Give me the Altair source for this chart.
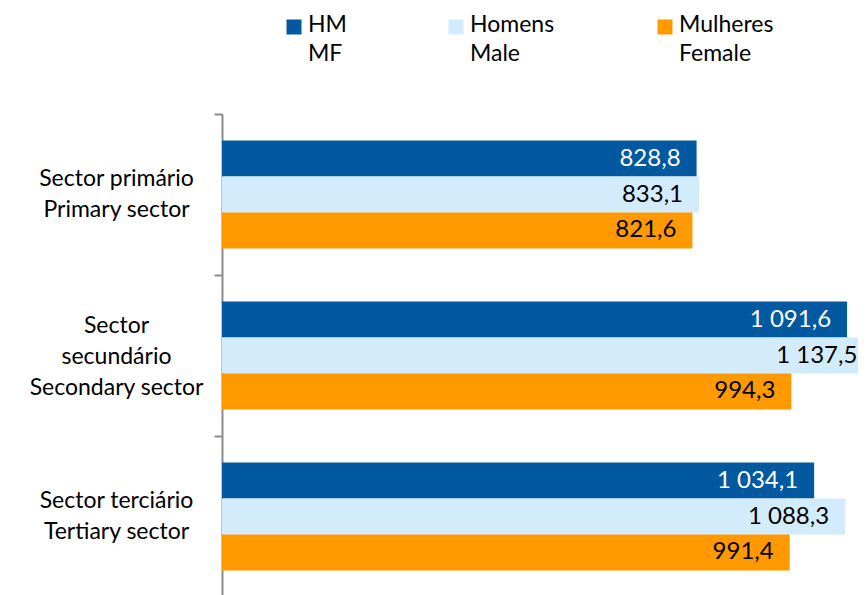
import altair as alt
import pandas as pd

categories = ["Sector primário\nPrimary sector",
              "Sector\nsecundário\nSecondary sector",
              "Sector terciário\nTertiary sector"]
series = ["HM\nMF", "Homens\nMale", "Mulheres\nFemale"]
hm = [828.8, 1091.6, 1034.1]
homens = [833.1, 1137.5, 1088.3]
mulheres = [821.6, 994.3, 991.4]
colors = ["#02599F", "#D3ECFC", "#FF9900"]
label_colors = ["#FFFFFF", "#000000", "#000000"]

FONT = "Lato"
LEGEND_X = [72, 234, 443]   # legend entry positions (layout, px from plot left)


def fmt(v):
    return f"{v:,.1f}".replace(",", " ").replace(".", ",")


rows = []
for s, vals, tc in zip(series, [hm, homens, mulheres], label_colors):
    for c, v in zip(categories, vals):
        rows.append({"cat": c, "series": s, "value": v, "label": fmt(v), "tc": tc})
df = pd.DataFrame(rows)

leg_df = pd.DataFrame({
    "series": series,
    "l1": [s.split("\n")[0] for s in series],
    "l2": [s.split("\n")[1] for s in series],
})

color_scale = alt.Scale(domain=series, range=colors)

y_enc = alt.Y(
    "cat:N", sort=categories,
    scale=alt.Scale(paddingInner=0, paddingOuter=0),
    axis=alt.Axis(
        title=None,
        labelExpr="split(datum.label, '\\n')",
        tickBand="extent",
        tickSize=8,
        tickColor="#8C8C8C",
        tickWidth=2,
        domainColor="#8C8C8C",
        domainWidth=2,
        labelAlign="center",
        labelBaseline="middle",
        labelPadding=98,
        labelOffset={"condition": {"test": "length(split(datum.value, '\\n')) > 2",
                                   "value": -30},
                     "value": -16},
        labelFont=FONT,
        labelFontSize=23,
        labelColor="#000000",
        labelLineHeight=31,
        minExtent=214,
        maxExtent=214,
    ),
)
yoff = alt.YOffset("series:N", sort=series,
                   scale=alt.Scale(paddingInner=0, paddingOuter=0.74))
x_enc = alt.X("value:Q", scale=alt.Scale(domain=[0, 1110.7], nice=False, zero=True), axis=None)

bars = alt.Chart(df).mark_bar(clip=True).encode(
    x=x_enc, y=y_enc, yOffset=yoff,
    color=alt.Color("series:N", sort=series, scale=color_scale, legend=None),
)

texts = alt.Chart(df).mark_text(
    align="right", baseline="middle", dx=-16, font=FONT, fontSize=24
).encode(
    x=x_enc, y=y_enc, yOffset=yoff,
    text="label:N",
    color=alt.Color("tc:N", scale=None),
)

legend_layers = []
for s, lx in zip(series, LEGEND_X):
    base = alt.Chart(leg_df).transform_filter(alt.datum.series == s)
    legend_layers.append(base.mark_square(size=225, opacity=1).encode(
        x=alt.value(lx), y=alt.value(-87),
        color=alt.Color("series:N", sort=series, scale=color_scale, legend=None),
    ))
    legend_layers.append(base.mark_text(
        align="left", baseline="middle", dx=14, font=FONT, fontSize=23, color="#000000"
    ).encode(x=alt.value(lx), y=alt.value(-89), text="l1:N"))
    legend_layers.append(base.mark_text(
        align="left", baseline="middle", dx=14, font=FONT, fontSize=23, color="#000000"
    ).encode(x=alt.value(lx), y=alt.value(-60), text="l2:N"))

chart = alt.layer(bars, texts, *legend_layers).properties(
    width=636, height=483,
    padding={"left": 0, "top": 6, "right": 0, "bottom": 0},
).configure_view(stroke=None)

chart.save("out.html", embed_options={"renderer": "svg", "actions": False})
